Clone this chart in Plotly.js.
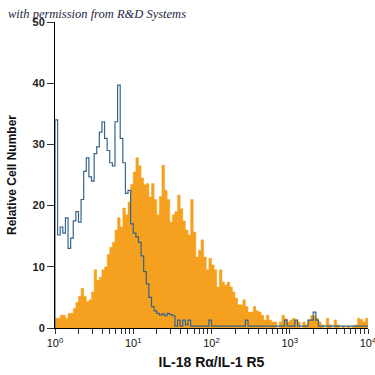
<!DOCTYPE html>
<html>
<head>
<meta charset="utf-8">
<script src="https://cdn.plot.ly/plotly-3.0.1.min.js"></script>
<style>html,body{margin:0;padding:0;background:#fff}#chart{width:375px;height:375px}</style>
</head>
<body>
<div id="chart"></div>
<script>
// Histogram channels: 30 bins per decade, from 10^0 to 10^4
const binsPerDecade = 30;
const decadeStart = 0;

// Isotype control (blue outline), relative cell number per bin
const isotypeCounts = [
  34, 15.2, 16.5, 15.5, 18, 13, 14.7, 17.5, 19, 17.3,
  21, 25.6, 27.8, 24.7, 24, 28.5, 29.6, 32, 33.7, 31,
  29, 27, 26.5, 33.7, 39.7, 31, 27, 22, 22.5, 17,
  15.5, 14.9, 14, 11.8, 9.2, 7.2, 5, 3.5, 2.8, 2.4,
  2.1, 2.3, 2.0, 2.4, 2.2, 2.0, 0.3, 1.3, 0.3, 1.3,
  0.5, 1.3, 0.3, 0.3, 0.3, 0.3, 0.3, 0.3, 0.3, 1.3,
  0.3, 0.3, 0.3, 0.3, 0.3, 0.3, 0.3, 0.3, 0.3, 0.3,
  0.3, 0.3, 0.3, 1.3, 0.3, 0.3, 0.3, 0.3, 0.3, 0.3,
  0.3, 0.3, 0.3, 0.3, 0.3, 0.3, 0.3, 0.3, 1.3, 0.3,
  0.3, 0.3, 1.3, 0.3, 0.3, 0.3, 0.3, 1.3, 1.3, 2.6,
  1.3, 0.3, 0.3, 0.3, 0.3, 0.3, 0.3, 0.3, 0.3, 0.3,
  0.3, 0.3, 0.3, 0.3, 0.3, 0.3, 0.3, 0.3, 0.3, 0.3
];

// IL-18 R alpha / IL-1 R5 stained cells (orange filled)
const stainedCounts = [
  1.6, 1.6, 2.1, 2.1, 1.6, 2.4, 2.4, 3.2, 4.2, 5.2,
  6.5, 5.2, 4.3, 4.6, 5.9, 9.5, 7.8, 8.3, 9.5, 10,
  12, 13.2, 14, 16, 18, 16.5, 19.6, 18.5, 20.6, 23.5,
  25.5, 27.8, 26.5, 24.5, 23.4, 23.6, 21.4, 23.6, 21, 18.5,
  21.5, 26.6, 22.5, 21, 17.3, 18.5, 19, 21.7, 19.5, 17.5,
  16, 15.2, 21, 15.7, 11.6, 12.7, 14.4, 11.6, 9.5, 11.4,
  10.3, 9.5, 6.7, 9.5, 7.5, 7, 7.5, 6.7, 5.9, 4.9,
  3.8, 3.8, 4.6, 3.5, 2.6, 2.6, 3.5, 2.8, 2.6, 2.1,
  1.3, 2.1, 1.3, 1, 1, 0, 1, 2.1, 1.5, 1,
  1.3, 1.6, 1.3, 1, 0, 1, 0.5, 1.3, 2, 2,
  1.6, 1, 0.5, 0, 1.6, 0.5, 0, 1.3, 0.5, 0,
  0.3, 0, 0.3, 0, 0.3, 0.5, 1.6, 1.4, 1, 1.6
];

const tickValsMajor = [1, 10, 100, 1000, 10000];
const tickLabelsMajor = ["10<sup>0</sup>", "10<sup>1</sup>", "10<sup>2</sup>", "10<sup>3</sup>", "10<sup>4</sup>"];
const minorMultipliers = [2, 3, 4, 5, 6, 7, 8, 9];
const yTickVals = [0, 10, 20, 30, 40, 50];

const xTitle = "IL-18 Rα/IL-1 R5";
const yTitle = "Relative Cell Number";
const watermark = "with permission from R&D Systems";

// Bin edges on the log scale
function edges(n) {
  const e = [];
  for (let i = 0; i <= n; i++) e.push(Math.pow(10, decadeStart + i / binsPerDecade));
  return e;
}
function stepTrace(counts) {
  const e = edges(counts.length);
  const xs = [e[0]], ys = [0];
  counts.forEach((c, i) => { xs.push(e[i]); ys.push(c); });
  xs.push(e[counts.length]); ys.push(counts[counts.length - 1]);
  return {xs, ys};
}

// Minor ticks 2..9 in each decade
const minorVals = [];
tickValsMajor.slice(0, -1).forEach(v => minorMultipliers.forEach(m => minorVals.push(v * m)));

const s = stepTrace(stainedCounts);
const b = stepTrace(isotypeCounts);

const traces = [
  {x: s.xs, y: s.ys, type: 'scatter', mode: 'lines', line: {shape: 'hv', color: '#F5A11F', width: 0.5},
   fill: 'tozeroy', fillcolor: '#F5A11F', hoverinfo: 'skip', name: 'IL-18 Rα/IL-1 R5'},
  {x: b.xs, y: b.ys, type: 'scatter', mode: 'lines', line: {shape: 'hv', color: '#36648A', width: 1.2},
   hoverinfo: 'skip', name: 'Isotype control'}
];

const layout = {
  width: 375, height: 375,
  margin: {l: 55, r: 7, t: 22, b: 47},
  paper_bgcolor: '#fff', plot_bgcolor: '#fff',
  showlegend: false,
  xaxis: {
    type: 'log', range: [0, 4], tickmode: 'array', tickvals: tickValsMajor, ticktext: tickLabelsMajor,
    ticks: 'outside', ticklen: 5, tickwidth: 1, tickcolor: '#333', ticklabeloverflow: 'allow',
    minor: {tickmode: 'array', tickvals: minorVals, ticks: 'outside', ticklen: 5, tickwidth: 1, tickcolor: '#333', showgrid: false},
    showline: true, linecolor: '#000', linewidth: 1, showgrid: false, zeroline: false,
    tickfont: {family: 'Liberation Sans, Arial, sans-serif', size: 11, color: '#111'},
    title: {text: xTitle, font: {family: 'Liberation Sans, Arial, sans-serif', size: 14, color: '#111', weight: 'bold'}, standoff: 8}
  },
  yaxis: {
    range: [0, 50], tickmode: 'array', tickvals: yTickVals,
    ticks: 'outside', ticklen: 7, tickwidth: 1, tickcolor: '#333',
    showline: true, linecolor: '#000', linewidth: 1, showgrid: false, zeroline: false,
    tickfont: {family: 'Liberation Sans, Arial, sans-serif', size: 11, color: '#222', weight: 'bold'},
    title: {text: yTitle, font: {family: 'Liberation Sans, Arial, sans-serif', size: 12, color: '#111', weight: 'bold'}, standoff: 13}
  },
  annotations: [{
    text: watermark, xref: 'paper', yref: 'paper', x: -0.155, y: 1.025, xanchor: 'left', yanchor: 'middle',
    showarrow: false, font: {family: 'Liberation Serif, DejaVu Serif, serif', size: 12.5, color: '#1b2840', style: 'italic'}
  }]
};

Plotly.newPlot('chart', traces, layout, {displayModeBar: false, staticPlot: true});
</script>
</body>
</html>
